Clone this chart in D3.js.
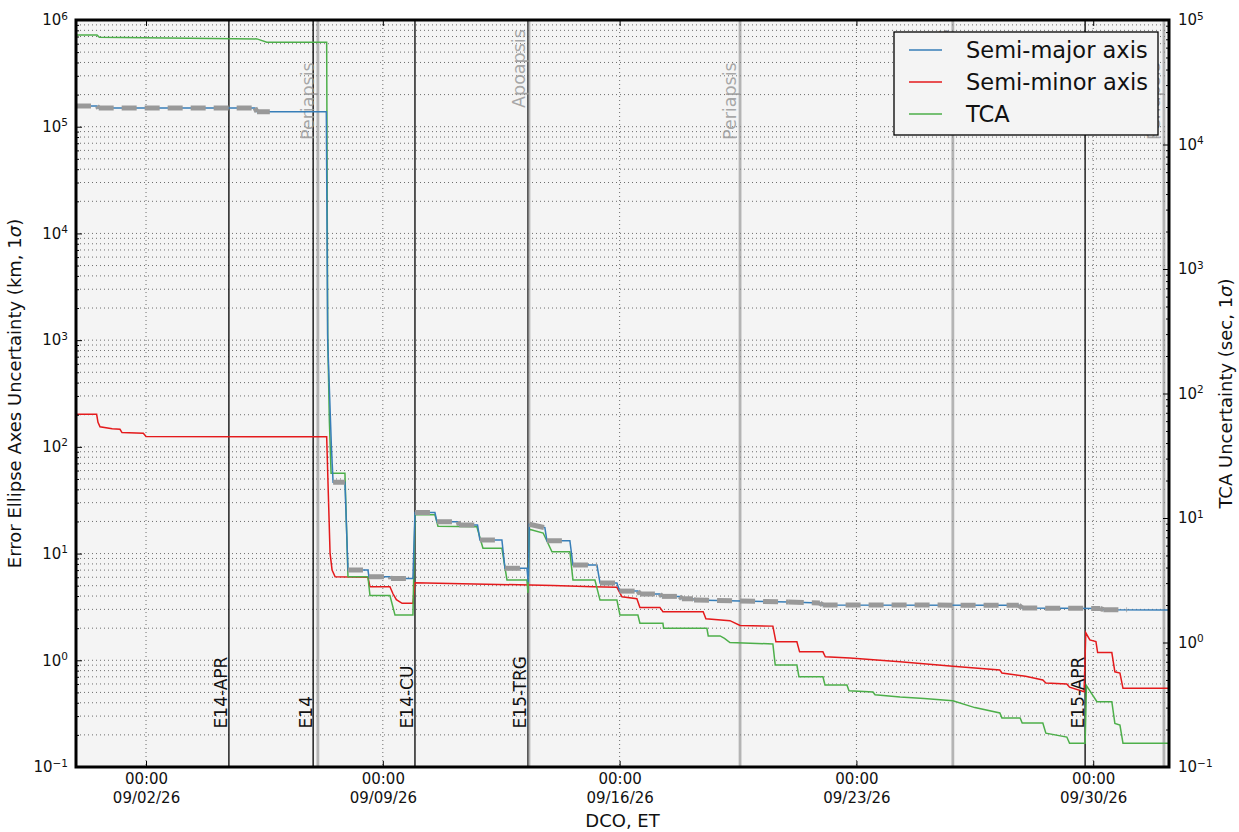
<!DOCTYPE html>
<html>
<head>
<meta charset="utf-8">
<script src="https://cdn.jsdelivr.net/npm/d3@7"></script>
<style>
  body { margin: 0; background: #fff; }
  svg { display: block; font-family: "DejaVu Sans", sans-serif; }
</style>
</head>
<body>
<div id="chart"></div>
<script>
// days are counted as day-of-September 2026 (UTC, fractional), so 32 = Oct 2
const semiMajorKm = [
  [-0.07, 156000], [0.55, 156000], [0.60, 149600], [5.22, 149600], [5.28, 138400], [7.33, 138400],
  [7.37, 1000], [7.48, 100], [7.53, 46.6], [7.88, 46.6], [7.97, 7.0], [8.56, 7.0], [8.59, 6.07],
  [9.21, 6.07], [9.24, 5.85], [9.89, 5.85], [9.95, 24.2], [10.54, 24.2], [10.60, 19.9], [11.22, 19.9],
  [11.26, 18.5], [11.80, 18.5], [11.87, 13.4], [12.52, 13.4], [12.61, 7.28], [13.26, 7.28], [13.30, 5.4],
  [13.33, 18.8], [13.79, 17.5], [13.85, 13.2], [14.53, 13.2], [14.62, 7.81], [15.33, 7.81], [15.42, 5.30],
  [15.92, 5.30], [16.0, 4.45], [16.54, 4.45], [16.6, 4.18], [17.19, 4.18], [17.25, 3.97], [17.78, 3.97],
  [17.84, 3.77], [18.17, 3.77], [18.2, 3.67], [19.56, 3.6], [21.0, 3.51], [21.92, 3.45], [22.0, 3.30],
  [27.8, 3.28], [27.9, 3.09], [30.2, 3.06], [30.3, 2.98], [32.25, 2.96]
];

const semiMinorKm = [
  [-0.07, 202], [0.54, 202], [0.58, 170], [0.64, 154], [1.0, 148], [1.23, 146], [1.29, 136], [1.92, 134],
  [2.0, 125], [7.34, 124.5], [7.44, 10.1], [7.50, 7.0], [7.59, 6.07], [8.56, 6.0], [8.62, 4.89],
  [9.21, 4.89], [9.30, 4.2], [9.40, 3.7], [9.57, 3.42], [9.89, 3.42], [9.95, 5.33], [11.0, 5.25],
  [13.35, 5.07], [14.03, 5.02], [15.21, 4.9], [15.92, 4.83], [16.07, 3.94], [16.51, 3.78], [16.6, 3.13],
  [17.19, 3.13], [17.28, 2.85], [18.47, 2.85], [18.55, 2.45], [19.26, 2.35], [19.56, 2.12], [20.53, 2.09],
  [20.62, 1.49], [21.24, 1.49], [21.32, 1.20], [22.01, 1.20], [22.08, 1.08], [22.81, 1.05], [24.29, 0.97],
  [25.85, 0.88], [27.24, 0.81], [27.3, 0.76], [28.0, 0.71], [28.51, 0.653], [28.6, 0.612], [29.22, 0.60],
  [29.3, 0.56], [29.73, 0.507], [29.78, 1.81], [29.90, 1.55], [30.08, 1.5], [30.13, 1.18], [30.55, 1.18],
  [30.64, 0.78], [30.79, 0.76], [30.88, 0.546], [32.25, 0.546]
];

const tcaSec = [
  [-0.07, 75800], [0.55, 75800], [0.62, 72600], [5.28, 70500], [5.57, 66200], [7.34, 66200],
  [7.37, 300], [7.42, 60], [7.47, 22.9], [7.88, 22.9], [7.97, 3.38], [8.56, 3.38], [8.62, 2.38],
  [9.21, 2.38], [9.36, 1.66], [9.89, 1.66], [9.95, 10.6], [10.54, 10.6], [10.63, 8.6], [11.78, 8.5],
  [11.96, 5.71], [12.52, 5.71], [12.67, 3.18], [13.26, 3.18], [13.29, 2.5], [13.33, 8.11], [13.74, 7.57],
  [14.0, 5.36], [14.53, 5.36], [14.62, 3.18], [15.27, 3.18], [15.42, 2.19], [15.92, 2.19], [16.01, 1.66],
  [16.54, 1.66], [16.6, 1.43], [17.28, 1.43], [17.3, 1.30], [18.58, 1.30], [18.62, 1.13], [18.97, 1.13],
  [19.1, 1.08], [19.26, 1.0], [20.53, 0.973], [20.6, 0.659], [21.24, 0.659], [21.3, 0.531], [22.01, 0.531],
  [22.07, 0.456], [22.72, 0.456], [22.78, 0.41], [23.49, 0.40], [23.55, 0.38], [24.29, 0.365], [25.0, 0.355],
  [25.85, 0.34], [26.5, 0.30], [27.24, 0.272], [27.3, 0.248], [27.84, 0.248], [27.9, 0.226], [28.51, 0.226],
  [28.6, 0.187], [29.22, 0.174], [29.3, 0.155], [29.76, 0.155], [29.80, 0.45], [30.11, 0.335], [30.55, 0.335],
  [30.64, 0.224], [30.79, 0.217], [30.88, 0.155], [32.25, 0.155]
];

// day ranges where the grey reference dashes sit on the flat parts of the semi-major curve
const refWindows = [[-0.07, 5.66], [7.52, 31.0]];

const eventDays = [4.45, 6.94, 9.95, 13.29, 29.76];
const eventNames = ["E14-APR", "E14", "E14-CU", "E15-TRG", "E15-APR"];

const apsisDays = [7.08, 13.32, 19.56, 25.85, 32.09];
const apsisNames = ["Periapsis", "Apoapsis", "Periapsis", "Apoapsis", "Periapsis"];

const xTickDays = [2, 9, 16, 23, 30];
const leftDecades = [-1, 0, 1, 2, 3, 4, 5, 6];
const rightDecades = [-1, 0, 1, 2, 3, 4, 5];

const seriesNames = ["Semi-major axis", "Semi-minor axis", "TCA"];
const seriesColors = ["#377eb8", "#e41a1c", "#4daf4a"];

(function(){

const width = 1239;
const height = 832;
const margin = {top:20, right:70, bottom:65, left:76};
const x0 = margin.left, x1 = width - margin.right;
const y0 = margin.top, y1 = height - margin.bottom;

const toDate = d => new Date(Date.UTC(2026, 7, 31) + d * 864e5);

const svg = d3.select("#chart")
  .append("svg")
  .attr("width", width)
  .attr("height", height);

const x = d3.scaleUtc()
  .domain([toDate(-0.07), toDate(32.24)])
  .range([x0, x1]);

const yL = d3.scaleLog().domain([0.1, 1e6]).range([y1, y0]);
const yR = d3.scaleLog().domain([0.1, 1e5]).range([y1, y0]);

const minorOf = decs => decs.slice(0, -1).flatMap(k => d3.range(2, 10).map(m => m * Math.pow(10, k)));
const leftMajor = leftDecades.map(k => Math.pow(10, k));
const rightMajor = rightDecades.map(k => Math.pow(10, k));
const leftMinor = minorOf(leftDecades);
const rightMinor = minorOf(rightDecades);

// background
svg.append("rect")
  .attr("x", x0).attr("y", y0)
  .attr("width", x1 - x0).attr("height", y1 - y0)
  .attr("fill", "#f4f4f4");

svg.append("clipPath").attr("id", "plotClip")
  .append("rect")
  .attr("x", x0).attr("y", y0)
  .attr("width", x1 - x0).attr("height", y1 - y0);

// dotted grid
const grid = svg.append("g")
  .attr("stroke", "#333")
  .attr("stroke-width", 0.7)
  .attr("stroke-dasharray", "1,3");

grid.selectAll(".hg")
  .data(leftMajor.concat(leftMinor))
  .enter().append("line")
  .attr("x1", x0).attr("x2", x1)
  .attr("y1", d => yL(d)).attr("y2", d => yL(d));

grid.selectAll(".vg")
  .data(xTickDays)
  .enter().append("line")
  .attr("x1", d => x(toDate(d))).attr("x2", d => x(toDate(d)))
  .attr("y1", y0).attr("y2", y1);

// event lines (black) and apsis lines (grey)
const plot = svg.append("g").attr("clip-path", "url(#plotClip)");

plot.selectAll(".event")
  .data(eventDays)
  .enter().append("line")
  .attr("x1", d => x(toDate(d))).attr("x2", d => x(toDate(d)))
  .attr("y1", y0).attr("y2", y1)
  .attr("stroke", "#000")
  .attr("stroke-width", 1.3);

plot.selectAll(".apsis")
  .data(apsisDays)
  .enter().append("line")
  .attr("x1", d => x(toDate(d))).attr("x2", d => x(toDate(d)))
  .attr("y1", y0).attr("y2", y1)
  .attr("stroke", "#888")
  .attr("stroke-opacity", 0.6)
  .attr("stroke-width", 2.8);

// apsis labels
const apsisLabelKm = {Periapsis: 7.5e4, Apoapsis: 1.5e5};
plot.selectAll(".apsisLabel")
  .data(apsisDays)
  .enter().append("text")
  .attr("transform", (d, i) => `translate(${x(toDate(d)) - 4},${yL(apsisLabelKm[apsisNames[i]])}) rotate(-90)`)
  .attr("fill", "#999")
  .attr("fill-opacity", 0.85)
  .style("font-size", "17.5px")
  .text((d, i) => apsisNames[i]);

// event labels
svg.selectAll(".eventLabel")
  .data(eventDays)
  .enter().append("text")
  .attr("transform", d => `translate(${x(toDate(d)) - 1.5},${yL(0.23)}) rotate(-90)`)
  .attr("fill", "#111")
  .style("font-size", "17px")
  .text((d, i) => eventNames[i]);

// series
const lineL = d3.line().x(d => x(toDate(d[0]))).y(d => yL(d[1]));
const lineR = d3.line().x(d => x(toDate(d[0]))).y(d => yR(d[1]));

plot.append("path")
  .attr("d", lineL(semiMinorKm))
  .attr("fill", "none")
  .attr("stroke", seriesColors[1])
  .attr("stroke-width", 1.5);

plot.append("path")
  .attr("d", lineR(tcaSec))
  .attr("fill", "none")
  .attr("stroke", seriesColors[2])
  .attr("stroke-width", 1.5);

plot.append("path")
  .attr("d", lineL(semiMajorKm))
  .attr("fill", "none")
  .attr("stroke", seriesColors[0])
  .attr("stroke-width", 1.5);

// grey reference dashes: only along the flat steps of the semi-major curve
const flatSteps = d3.pairs(semiMajorKm)
  .filter(([a, b]) => Math.abs(Math.log10(b[1] / a[1])) < 0.05);

const refClip = svg.append("clipPath").attr("id", "refClip");
refClip.selectAll("rect")
  .data(refWindows)
  .enter().append("rect")
  .attr("x", d => x(toDate(d[0])))
  .attr("width", d => x(toDate(d[1])) - x(toDate(d[0])))
  .attr("y", y0).attr("height", y1 - y0);

plot.append("g").attr("clip-path", "url(#refClip)")
  .selectAll("path")
  .data(flatSteps)
  .enter().append("path")
  .attr("d", d => lineL(d))
  .attr("fill", "none")
  .attr("stroke", "#999")
  .attr("stroke-width", 5)
  .attr("stroke-dasharray", "15,8");

// axes
const supLabel = (sel) => {
  sel.selectAll(".tick text").each(function(d) {
    const t = d3.select(this);
    const e = Math.round(Math.log10(d));
    t.text(null);
    t.append("tspan").text("10");
    t.append("tspan")
      .attr("dy", "-0.55em")
      .style("font-size", "10.5px")
      .text(e < 0 ? "\u2212" + (-e) : e);
  });
};

const styleAxis = g => {
  g.select(".domain").remove();
  g.selectAll(".tick line").attr("stroke", "#000");
  g.selectAll(".tick text").attr("fill", "#111");
};

svg.append("g")
  .attr("transform", `translate(${x0},0)`)
  .style("font-size", "15px")
  .call(d3.axisLeft(yL).tickValues(leftMajor).tickSize(-6).tickPadding(8))
  .call(styleAxis)
  .call(supLabel)
  .attr("font-family", null)
  .attr("font-size", null);

svg.append("g")
  .attr("transform", `translate(${x0},0)`)
  .call(d3.axisLeft(yL).tickValues(leftMinor).tickSize(-3).tickFormat(""))
  .call(styleAxis);

svg.append("g")
  .attr("transform", `translate(${x1},0)`)
  .style("font-size", "15px")
  .call(d3.axisRight(yR).tickValues(rightMajor).tickSize(-6).tickPadding(9))
  .call(styleAxis)
  .call(supLabel)
  .attr("font-family", null)
  .attr("font-size", null);

svg.append("g")
  .attr("transform", `translate(${x1},0)`)
  .call(d3.axisRight(yR).tickValues(rightMinor).tickSize(-3).tickFormat(""))
  .call(styleAxis);

const fmtTime = d3.utcFormat("%H:%M");
const fmtDate = d3.utcFormat("%m/%d/%y");

svg.append("g")
  .attr("transform", `translate(0,${y1})`)
  .style("font-size", "15px")
  .call(d3.axisBottom(x).tickValues(xTickDays.map(toDate)).tickSize(-6).tickPadding(6).tickFormat(fmtTime))
  .call(styleAxis)
  .call(g => g.selectAll(".tick text").append("tspan")
    .attr("x", 0).attr("dy", "19px")
    .text(d => fmtDate(d)))
  .attr("font-family", null)
  .attr("font-size", null);

svg.append("g")
  .attr("transform", `translate(0,${y0})`)
  .call(d3.axisTop(x).tickValues(xTickDays.map(toDate)).tickSize(-6).tickFormat(""))
  .call(styleAxis);

// axis titles
const sigmaLabel = (sel, before) => {
  sel.append("tspan").text(before);
  sel.append("tspan").style("font-style", "italic").text("\u03c3");
  sel.append("tspan").text(")");
};

svg.append("text")
  .attr("transform", `translate(21,${(y0 + y1) / 2}) rotate(-90)`)
  .attr("text-anchor", "middle")
  .style("font-size", "18px")
  .attr("fill", "#111")
  .call(sigmaLabel, "Error Ellipse Axes Uncertainty (km, 1");

svg.append("text")
  .attr("transform", `translate(1232,${(y0 + y1) / 2}) rotate(-90)`)
  .attr("text-anchor", "middle")
  .style("font-size", "18px")
  .attr("fill", "#111")
  .call(sigmaLabel, "TCA Uncertainty (sec, 1");

svg.append("text")
  .attr("x", (x0 + x1) / 2)
  .attr("y", 827)
  .attr("text-anchor", "middle")
  .style("font-size", "18px")
  .attr("fill", "#111")
  .text("DCO, ET");

// legend
const legend = svg.append("g").attr("transform", "translate(894,32)");
legend.append("rect")
  .attr("width", 264).attr("height", 103)
  .attr("fill", "#f4f4f4")
  .attr("stroke", "#000")
  .attr("stroke-width", 1.3);

const entry = legend.selectAll(".entry")
  .data(seriesNames)
  .enter().append("g")
  .attr("transform", (d, i) => `translate(0,${18 + i * 32})`);

entry.append("line")
  .attr("x1", 15).attr("x2", 48)
  .attr("stroke", (d, i) => seriesColors[i])
  .attr("stroke-width", 1.5);

entry.append("text")
  .attr("x", 72).attr("y", 8)
  .style("font-size", "22.5px")
  .attr("fill", "#111")
  .text(d => d);

// frame
svg.append("rect")
  .attr("x", x0).attr("y", y0)
  .attr("width", x1 - x0).attr("height", y1 - y0)
  .attr("fill", "none")
  .attr("stroke", "#000")
  .attr("stroke-width", 3);

})();
</script>
</body>
</html>
